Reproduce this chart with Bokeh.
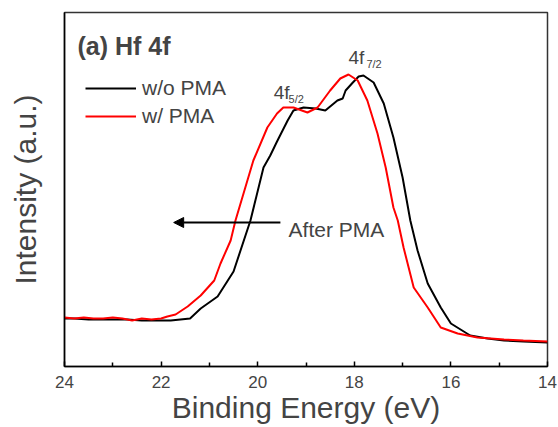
from bokeh.plotting import figure
from bokeh.models import (Range1d, FixedTicker, Legend, LegendItem, Label, Arrow, NormalHead)
from bokeh.embed import file_html
from bokeh.resources import INLINE

# Binding energy (eV) and intensity (a.u.)
be_wo = [24.0, 23.8, 23.5, 23.2, 23.0, 22.7, 22.4, 22.2, 22.0, 21.8, 21.6, 21.4, 21.18, 20.83, 20.5,
         20.15, 19.88, 19.74, 19.6, 19.38, 19.26, 19.05, 18.8, 18.6, 18.35, 18.24, 18.18, 18.03,
         17.91, 17.81, 17.6, 17.39, 17.19, 17.0, 16.84, 16.69, 16.48, 16.21, 16.0, 15.6, 15.24,
         14.9, 14.5, 14.0]
int_wo = [48, 48, 47, 47, 47, 47, 46, 46, 46, 46, 47, 48, 58, 70, 95,
          146, 199, 211, 225, 246, 256, 259, 258, 256, 266, 268, 276, 284,
          290, 291, 284, 263, 229, 189, 146, 116, 83, 59, 43, 31, 28,
          26, 25, 24]

be_w = [24.0, 23.8, 23.6, 23.4, 23.2, 23.0, 22.8, 22.6, 22.4, 22.2, 22.0, 21.87, 21.7, 21.45, 21.18,
        20.9, 20.77, 20.56, 20.46, 20.09, 19.8, 19.6, 19.47, 19.26, 18.97, 18.76, 18.5, 18.29,
        18.12, 17.93, 17.73, 17.52, 17.35, 17.19, 17.1, 16.98, 16.77, 16.48, 16.21, 15.86, 15.45,
        14.9, 14.5, 14.0]
int_w = [49, 48, 49, 48, 48, 49, 48, 46, 48, 47, 48, 50, 52, 60, 71,
         86, 103, 126, 146, 206, 239, 253, 259, 259, 254, 259, 276, 288,
         292, 286, 266, 233, 199, 159, 146, 119, 79, 59, 39, 33, 29,
         27, 26, 25]

x_ticks = [24, 22, 20, 18, 16, 14]
x_minor = [23, 21, 19, 17, 15]
series_names = ["w/o PMA", "w/ PMA"]
series_colors = ["black", "#ff0000"]

FONT = "Liberation Sans"

p = figure(width=558, height=427, output_backend="svg", toolbar_location=None,
           x_range=Range1d(24, 14), y_range=Range1d(0, 354),
           min_border_left=64, min_border_right=11, min_border_top=12, min_border_bottom=61)
p.grid.visible = False
p.background_fill_color = "white"
p.border_fill_color = "white"
p.outline_line_color = "#333333"
p.outline_line_width = 1.5

xa = p.xaxis[0]
xa.ticker = FixedTicker(ticks=x_ticks, minor_ticks=x_minor)
xa.major_tick_in = 5
xa.major_tick_out = 0
xa.minor_tick_in = 4
xa.minor_tick_out = 0
xa.axis_line_width = 1.5
xa.major_tick_line_width = 1.5
xa.minor_tick_line_width = 1.5
xa.major_label_text_font = FONT
xa.major_label_text_font_size = "17px"
xa.major_label_standoff = 9
xa.axis_label = "Binding Energy (eV)"
xa.axis_label_text_font = FONT
xa.axis_label_text_font_size = "30px"
xa.axis_label_text_font_style = "normal"
xa.axis_label_standoff = 0

ya = p.yaxis[0]
ya.ticker = FixedTicker(ticks=[])
ya.major_tick_line_color = None
ya.minor_tick_line_color = None
ya.major_label_text_font_size = "0px"
ya.axis_line_width = 1.5
ya.axis_label = "Intensity (a.u.)"
ya.axis_label_text_font = FONT
ya.axis_label_text_font_size = "30px"
ya.axis_label_text_font_style = "normal"
ya.axis_label_standoff = 23

r1 = p.line(be_wo, int_wo, line_color=series_colors[0], line_width=2)
r2 = p.line(be_w, int_w, line_color=series_colors[1], line_width=2)

legend = Legend(items=[LegendItem(label=series_names[0], renderers=[r1]),
                       LegendItem(label=series_names[1], renderers=[r2])],
                location=(21, 238), padding=0, margin=0, spacing=4,
                glyph_width=51, glyph_height=24, label_height=24, label_standoff=6,
                label_text_font=FONT, label_text_font_size="21px",
                border_line_color=None, background_fill_alpha=0)
p.add_layout(legend)

p.add_layout(Label(x=23.73, y=321, text="(a) Hf 4f", text_font=FONT, text_font_size="25px",
                   text_font_style="bold", text_baseline="alphabetic"))
p.add_layout(Label(x=18.12, y=309, text="4f", text_font=FONT, text_font_size="19px",
                   text_baseline="alphabetic"))
p.add_layout(Label(x=17.75, y=303, text="7/2", text_font=FONT, text_font_size="11px",
                   text_baseline="alphabetic"))
p.add_layout(Label(x=19.67, y=274, text="4f", text_font=FONT, text_font_size="19px",
                   text_baseline="alphabetic"))
p.add_layout(Label(x=19.36, y=268, text="5/2", text_font=FONT, text_font_size="11px",
                   text_baseline="alphabetic"))
p.add_layout(Label(x=19.36, y=137, text="After PMA", text_font=FONT, text_font_size="21px",
                   text_baseline="alphabetic"))
p.add_layout(Arrow(x_start=19.53, y_start=144, x_end=21.74, y_end=144, line_width=2,
                   line_color="black",
                   end=NormalHead(size=10, fill_color="black", line_color="black", line_width=1)))

open("out.html", "w").write(file_html(p, INLINE))
